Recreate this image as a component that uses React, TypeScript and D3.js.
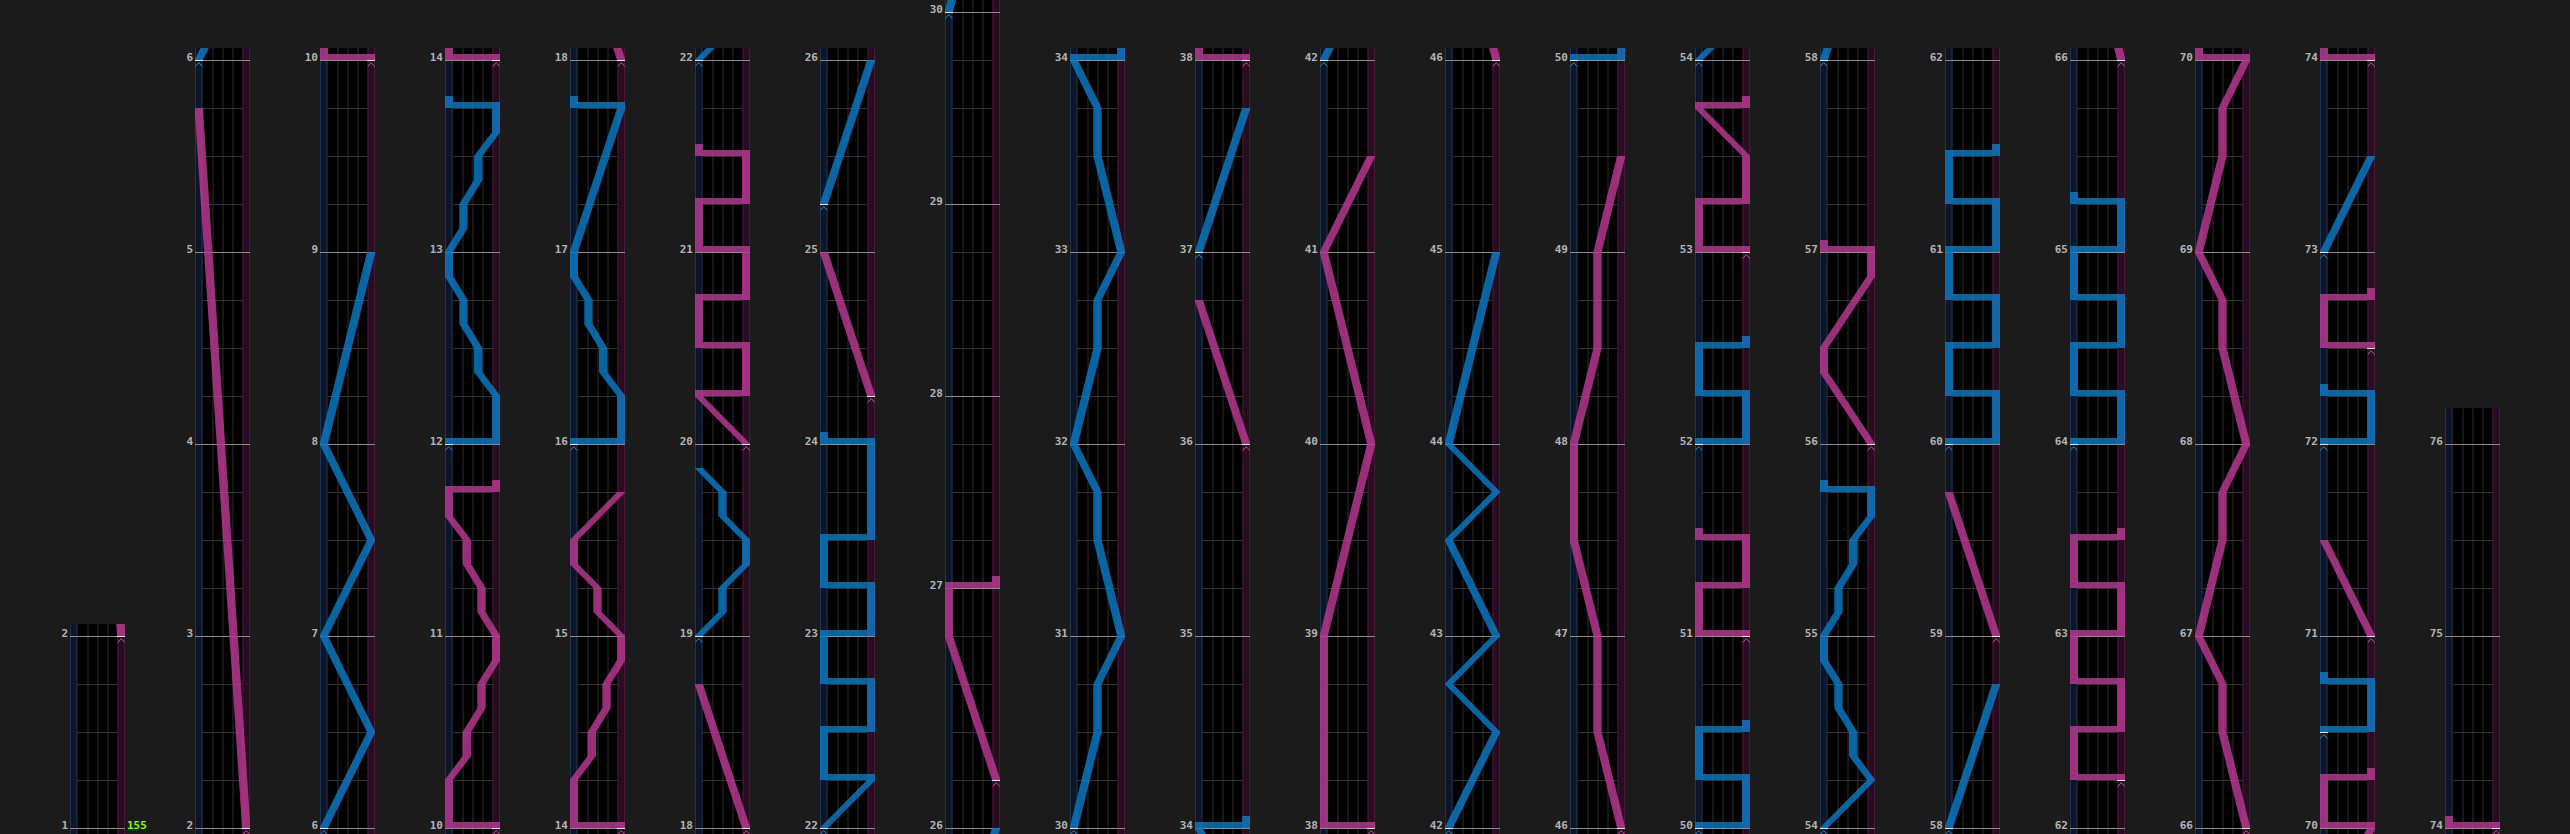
import React from 'react';
import * as d3 from 'd3';

const WIDTH = 2570;
const HEIGHT = 834;

// chart structure
const lastMeasure = 76;
const oddMeasures: Record<number, number> = { 26: 5 }; // beats per bar when not 4
const columnRanges: [number, number][] = [
  [1, 2], [2, 6], [6, 10], [10, 14], [14, 18], [18, 22], [22, 26], [26, 30], [30, 34], [34, 38],
  [38, 42], [42, 46], [46, 50], [50, 54], [54, 58], [58, 62], [62, 66], [66, 70], [70, 74], [74, 76],
];
const bpmLabel = '155';

// laser points: [measure position, lane position 0 = left .. 1 = right]
// two points at the same position = slam
const leftLasers: [number, number][][] = [
  [[6, 0], [6.5, 1], [7, 0], [7.5, 1], [8, 0], [9, 1]],
  [[12, 0], [12, 1], [12.25, 1], [12.375, 0.62], [12.5, 0.62], [12.625, 0.31], [12.75, 0.31], [12.875, 0], [13, 0],
    [13.125, 0.31], [13.25, 0.31], [13.375, 0.62], [13.5, 0.62], [13.625, 1], [13.75, 1], [13.75, 0]],
  [[16, 0], [16, 1], [16.25, 1], [16.375, 0.62], [16.5, 0.62], [16.625, 0.31], [16.75, 0.31], [16.875, 0], [17, 0],
    [17.75, 1], [17.75, 0]],
  [[19, 0], [19.125, 0.5], [19.25, 0.5], [19.375, 1], [19.5, 1], [19.625, 0.5], [19.75, 0.5], [19.875, 0]],
  [[22, 0], [22.25, 1], [22.25, 0], [22.5, 0], [22.5, 1], [22.75, 1], [22.75, 0], [23, 0], [23, 1], [23.25, 1],
    [23.25, 0], [23.5, 0], [23.5, 1], [24, 1], [24, 0]],
  [[25.25, 0], [26, 1]],
  [[30, 0], [30.5, 0.5], [30.75, 0.5], [31, 1], [31.5, 0.5], [31.75, 0.5], [32, 0], [32.5, 0.5], [32.75, 0.5], [33, 1],
    [33.5, 0.5], [33.75, 0.5], [34, 0], [34, 1]],
  [[37, 0], [37.75, 1]],
  [[42, 0], [42.5, 1], [42.75, 0], [43, 1], [43.5, 0], [43.75, 1], [44, 0], [45, 1]],
  [[50, 0], [50, 1], [50.25, 1], [50.25, 0], [50.5, 0], [50.5, 1]],
  [[52, 0], [52, 1], [52.25, 1], [52.25, 0], [52.5, 0], [52.5, 1]],
  [[54, 0], [54.25, 1], [54.375, 0.62], [54.5, 0.62], [54.625, 0.31], [54.75, 0.31], [54.875, 0], [55, 0],
    [55.125, 0.31], [55.25, 0.31], [55.375, 0.62], [55.5, 0.62], [55.625, 1], [55.75, 1], [55.75, 0]],
  [[58, 0], [58.75, 1]],
  [[60, 0], [60, 1], [60.25, 1], [60.25, 0], [60.5, 0], [60.5, 1], [60.75, 1], [60.75, 0], [61, 0], [61, 1],
    [61.25, 1], [61.25, 0], [61.5, 0], [61.5, 1]],
  [[64, 0], [64, 1], [64.25, 1], [64.25, 0], [64.5, 0], [64.5, 1], [64.75, 1], [64.75, 0], [65, 0], [65, 1],
    [65.25, 1], [65.25, 0]],
  [[70.5, 0], [70.5, 1], [70.75, 1], [70.75, 0]],
  [[72, 0], [72, 1], [72.25, 1], [72.25, 0]],
  [[73, 0], [73.5, 1]],
];

const rightLasers: [number, number][][] = [
  [[2, 1], [5.75, 0]],
  [[10, 1], [10, 0], [10.25, 0], [10.375, 0.38], [10.5, 0.38], [10.625, 0.69], [10.75, 0.69], [10.875, 1], [11, 1],
    [11.125, 0.69], [11.25, 0.69], [11.375, 0.38], [11.5, 0.38], [11.625, 0], [11.75, 0], [11.75, 1]],
  [[14, 1], [14, 0], [14.25, 0], [14.375, 0.38], [14.5, 0.38], [14.625, 0.69], [14.75, 0.69], [14.875, 1], [15, 1],
    [15.125, 0.5], [15.25, 0.5], [15.375, 0], [15.5, 0], [15.75, 1]],
  [[18, 1], [18.75, 0]],
  [[20, 1], [20.25, 0], [20.25, 1], [20.5, 1], [20.5, 0], [20.75, 0], [20.75, 1], [21, 1], [21, 0], [21.25, 0],
    [21.25, 1], [21.5, 1], [21.5, 0]],
  [[24.25, 1], [25, 0]],
  [[26.2, 1], [26.8, 0], [27, 0], [27, 1]],
  [[36, 1], [36.75, 0]],
  [[38, 1], [38, 0], [39, 0], [40, 1], [41, 0], [41.5, 1]],
  [[46, 1], [46.5, 0.5], [47, 0.5], [47.5, 0], [48, 0], [48.5, 0.5], [49, 0.5], [49.5, 1]],
  [[51, 1], [51, 0], [51.25, 0], [51.25, 1], [51.5, 1], [51.5, 0]],
  [[53, 1], [53, 0], [53.25, 0], [53.25, 1], [53.5, 1], [53.75, 0], [53.75, 1]],
  [[56, 1], [56.375, 0], [56.5, 0], [56.875, 1], [57, 1], [57, 0]],
  [[59, 1], [59.75, 0]],
  [[62.25, 1], [62.25, 0], [62.5, 0], [62.5, 1], [62.75, 1], [62.75, 0], [63, 0], [63, 1], [63.25, 1], [63.25, 0],
    [63.5, 0], [63.5, 1]],
  [[66, 1], [66.5, 0.5], [66.75, 0.5], [67, 0], [67.5, 0.5], [67.75, 0.5], [68, 1], [68.5, 0.5], [68.75, 0.5],
    [69, 0], [69.5, 0.5], [69.75, 0.5], [70, 1], [70, 0], [70.25, 0], [70.25, 1]],
  [[71, 1], [71.5, 0]],
  [[72.5, 1], [72.5, 0], [72.75, 0], [72.75, 1]],
  [[74, 1], [74, 0]],
];

// layout
const COL_X0 = 70;
const COL_STEP = 125;
const TRACK_W = 55;
const LANE_W = 7.5;
const BASE_Y = 828;
const BEAT_PX = 48;
const LASER_HALF = 4.2;

const BLUE = '#0c7bc6';
const PINK = '#bc3a94';

export default function App() {
  const measures = d3.range(1, lastMeasure + 2);
  const cum: number[] = [0];
  measures.slice(0, -1).forEach((m, i) => cum.push(cum[i] + (oddMeasures[m] ?? 4)));
  const beatAt = d3.scaleLinear().domain(measures).range(cum);
  const poly = d3.line();

  const drawLaser = (pts: [number, number][], x: (v: number) => number, y: (m: number) => number, key: string, color: string) => {
    const shapes: JSX.Element[] = [];
    let lastSlam = false;
    for (let i = 1; i < pts.length; i++) {
      const [m1, v1] = pts[i - 1];
      const [m2, v2] = pts[i];
      if (m1 === m2) {
        const xa = Math.min(x(v1), x(v2)) - LASER_HALF;
        const xb = Math.max(x(v1), x(v2)) + LASER_HALF;
        shapes.push(<rect key={i} x={xa} y={y(m1) - 6} width={xb - xa} height={6} />);
        lastSlam = true;
      } else {
        const d = poly([
          [x(v1) - LASER_HALF, y(m1)],
          [x(v1) + LASER_HALF, y(m1)],
          [x(v2) + LASER_HALF, y(m2)],
          [x(v2) - LASER_HALF, y(m2)],
        ]) + 'Z';
        shapes.push(<path key={i} d={d} />);
        lastSlam = false;
      }
    }
    if (lastSlam) {
      const [m, v] = pts[pts.length - 1];
      shapes.push(<rect key="tail" x={x(v) - LASER_HALF} y={y(m) - 12} width={LASER_HALF * 2} height={12} />);
    }
    return (
      <g key={key} fill={color} opacity={0.82}>
        {shapes}
      </g>
    );
  };

  const startMarker = (pts: [number, number][], x: (v: number) => number, y: (m: number) => number, key: string, color: string) => {
    const [m, v] = pts[0];
    const cx = x(v);
    const cy = y(m);
    return (
      <g key={key}>
        <line x1={cx - LASER_HALF} x2={cx + LASER_HALF} y1={cy + 0.5} y2={cy + 0.5} stroke="#e8e8e8" strokeWidth={1} />
        <path d={`M${cx - 3.5},${cy + 6.5}L${cx},${cy + 2.5}L${cx + 3.5},${cy + 6.5}`} fill="none" stroke={color} strokeWidth={1} />
      </g>
    );
  };

  return (
    <svg
      width={WIDTH}
      height={HEIGHT}
      style={{ position: 'absolute', left: 0, top: 0, background: '#1b1b1b', display: 'block' }}
    >
      <rect x={0} y={0} width={WIDTH} height={HEIGHT} fill="#1b1b1b" />
      {columnRanges.map(([s, e], ci) => {
        const x0 = COL_X0 + ci * COL_STEP;
        const y = (m: number) => BASE_Y - (beatAt(m) - beatAt(s)) * BEAT_PX;
        const x = d3.scaleLinear().domain([0, 1]).range([x0 + LANE_W / 2, x0 + TRACK_W - LANE_W / 2]);
        const pad = ci === columnRanges.length - 1 ? 36 : 12;
        const top = Math.max(0, y(e) - pad);
        const btL = x0 + LANE_W;
        const btR = x0 + TRACK_W - LANE_W;
        const beats = d3.range(beatAt(s), beatAt(e) + 1);
        const marks = d3.range(s, e + 1);
        const clipId = `clip-${ci}`;
        return (
          <g key={ci}>
            <defs>
              <clipPath id={clipId}>
                <rect x={x0} y={top} width={TRACK_W} height={HEIGHT - top} />
              </clipPath>
            </defs>
            <rect x={x0} y={top} width={TRACK_W} height={HEIGHT - top} fill="#000" />
            <rect x={x0} y={top} width={LANE_W} height={HEIGHT - top} fill="#0d1628" />
            <rect x={btR} y={top} width={LANE_W} height={HEIGHT - top} fill="#280c1f" />
            <line x1={x0 + 0.5} x2={x0 + 0.5} y1={top} y2={HEIGHT} stroke="#1d3452" />
            <line x1={btL - 0.5} x2={btL - 0.5} y1={top} y2={HEIGHT} stroke="#1d3452" />
            <line x1={btR + 0.5} x2={btR + 0.5} y1={top} y2={HEIGHT} stroke="#4a1838" />
            <line x1={x0 + TRACK_W - 0.5} x2={x0 + TRACK_W - 0.5} y1={top} y2={HEIGHT} stroke="#4a1838" />
            {[1, 2, 3].map((k) => (
              <line key={k} x1={btL + k * 10 + 0.5} x2={btL + k * 10 + 0.5} y1={top} y2={HEIGHT} stroke="#2e2e2e" />
            ))}
            {beats.map((b) => {
              const yy = BASE_Y - (b - beatAt(s)) * BEAT_PX;
              return <line key={`b${b}`} x1={btL} x2={btR} y1={yy + 0.5} y2={yy + 0.5} stroke="#333" />;
            })}
            {marks.map((m) => (
              <g key={`m${m}`}>
                <line x1={x0} x2={x0 + TRACK_W} y1={y(m) + 0.5} y2={y(m) + 0.5} stroke="#8c8c8c" />
                <text
                  x={x0 - 2}
                  y={y(m) + 1}
                  textAnchor="end"
                  fill="#b4b4b4"
                  fontFamily="'DejaVu Sans Mono', monospace"
                  fontWeight="bold"
                  fontSize={11}
                >
                  {m}
                </text>
              </g>
            ))}
            <g clipPath={`url(#${clipId})`}>
              {leftLasers.map((pts, li) => drawLaser(pts, x, y, `l${li}`, BLUE))}
              {rightLasers.map((pts, ri) => drawLaser(pts, x, y, `r${ri}`, PINK))}
              {leftLasers.map((pts, li) => startMarker(pts, x, y, `ls${li}`, '#3a84c0'))}
              {rightLasers.map((pts, ri) => startMarker(pts, x, y, `rs${ri}`, '#c0559c'))}
            </g>
            {ci === 0 && (
              <text
                x={x0 + TRACK_W + 2}
                y={y(s) + 1}
                fill="#7fff00"
                fontFamily="'DejaVu Sans Mono', monospace"
                fontWeight="bold"
                fontSize={11}
              >
                {bpmLabel}
              </text>
            )}
          </g>
        );
      })}
    </svg>
  );
}
